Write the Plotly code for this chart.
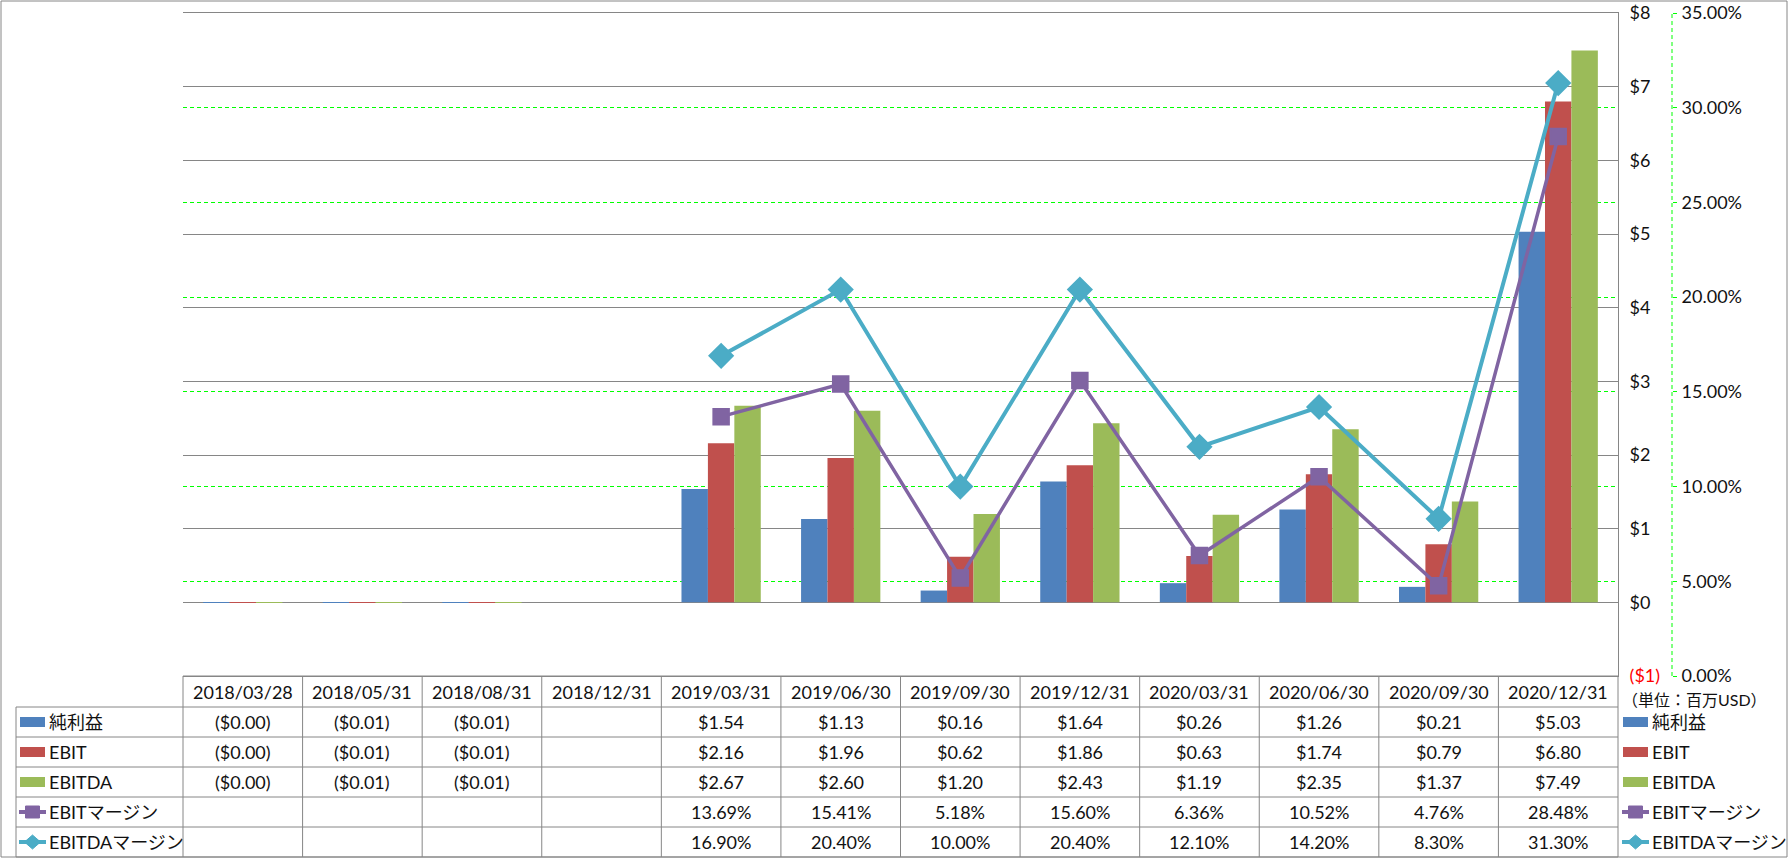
import plotly.graph_objects as go

# ---------------- data ----------------
categories = ["2018/03/28", "2018/05/31", "2018/08/31", "2018/12/31",
              "2019/03/31", "2019/06/30", "2019/09/30", "2019/12/31",
              "2020/03/31", "2020/06/30", "2020/09/30", "2020/12/31"]
net_income = [-0.002, -0.006, -0.006, None, 1.54, 1.13, 0.16, 1.64, 0.26, 1.26, 0.21, 5.03]
ebit = [-0.002, -0.006, -0.006, None, 2.16, 1.96, 0.62, 1.86, 0.63, 1.74, 0.79, 6.80]
ebitda = [-0.002, -0.006, -0.006, None, 2.67, 2.60, 1.20, 2.43, 1.19, 2.35, 1.37, 7.49]
ebit_margin = [None, None, None, None, 13.69, 15.41, 5.18, 15.60, 6.36, 10.52, 4.76, 28.48]
ebitda_margin = [None, None, None, None, 16.90, 20.40, 10.00, 20.40, 12.10, 14.20, 8.30, 31.30]
series_names = ["純利益", "EBIT", "EBITDA", "EBITマージン", "EBITDAマージン"]
usd_ticks = [-1, 0, 1, 2, 3, 4, 5, 6, 7, 8]
pct_ticks = [0, 5, 10, 15, 20, 25, 30, 35]
unit_label = "（単位：百万USD）"

# ---------------- styles ----------------
COLORS = ["#4F81BD", "#C0504D", "#9BBB59", "#8064A2", "#4BACC6"]
GRID = "#868686"
GREEN = "#00FF00"
TXT = "#111111"
FONT = "Lato, 'Noto Sans CJK JP', sans-serif"
FS = 18

W, H = 1789, 858
L, T = 183, 13          # plot left / top (px)
PLOT_R = 1618           # plot right edge (px)
AX2_X = 1672            # secondary axis line (px)
BOT = 676               # plot bottom (px)
PW = AX2_X - L
PH = BOT - T


def fx(px):
    return (px - L) / PW


def fy(py):
    return (BOT - py) / PH


def fmt_usd(v):
    if v is None:
        return ""
    if v < 0:
        return "(${:.2f})".format(abs(v))
    return "${:.2f}".format(v)


def fmt_pct(v):
    return "" if v is None else "{:.2f}%".format(v)


usd_text = ['<span style="color:#FF0000">(${})</span>'.format(abs(v)) if v < 0 else "${}".format(v)
            for v in usd_ticks]
pct_text = ["{:.2f}%".format(v) for v in pct_ticks]

fig = go.Figure()
bar_series = [net_income, ebit, ebitda]
for name, vals, col in zip(series_names[:3], bar_series, COLORS[:3]):
    fig.add_trace(go.Bar(x=categories, y=vals, name=name, marker=dict(color=col, line=dict(width=0)),
                         yaxis="y"))

fig.add_trace(go.Scatter(x=categories, y=ebit_margin, name=series_names[3], yaxis="y2",
                         mode="lines+markers", line=dict(color=COLORS[3], width=3.5),
                         marker=dict(symbol="square", size=15, color=COLORS[3],
                                     line=dict(color=COLORS[3], width=2.5))))
fig.add_trace(go.Scatter(x=categories, y=ebitda_margin, name=series_names[4], yaxis="y2",
                         mode="lines+markers", line=dict(color=COLORS[4], width=4),
                         marker=dict(symbol="diamond", size=18, color=COLORS[4],
                                     line=dict(color=COLORS[4], width=2))))

shapes = []
annotations = []

# outer frame
shapes.append(dict(type="rect", xref="paper", yref="paper", x0=fx(1), x1=fx(W - 2), y0=fy(H - 1), y1=fy(1),
                   line=dict(color=GRID, width=1), layer="below"))

# secondary axis dashed line
shapes.append(dict(type="line", xref="paper", yref="paper", x0=1, x1=1, y0=0, y1=1,
                   line=dict(color=GREEN, width=1, dash="4px,3px")))

# ---------------- data table ----------------
HEAD_H = 31
ROW_H = 30
row_tops = [BOT + HEAD_H + ROW_H * k for k in range(6)]   # boundaries of body rows
TAB_L = 16

shapes.append(dict(type="line", xref="x domain", yref="paper", x0=0, x1=1, y0=fy(BOT), y1=fy(BOT),
                   line=dict(color=GRID, width=1)))
for yb in row_tops:
    shapes.append(dict(type="line", xref="paper", yref="paper", x0=fx(TAB_L), x1=fx(PLOT_R),
                       y0=fy(yb), y1=fy(yb), line=dict(color=GRID, width=1)))
shapes.append(dict(type="line", xref="paper", yref="paper", x0=fx(TAB_L), x1=fx(TAB_L),
                   y0=fy(row_tops[0]), y1=fy(row_tops[-1]), line=dict(color=GRID, width=1)))
for edge in [0, 1]:
    shapes.append(dict(type="line", xref="x domain", yref="paper", x0=edge, x1=edge,
                       y0=fy(BOT), y1=fy(row_tops[-1]), line=dict(color=GRID, width=1)))
for i in range(1, len(categories)):
    shapes.append(dict(type="line", xref="x", yref="paper", x0=i - 0.5, x1=i - 0.5,
                       y0=fy(BOT), y1=fy(row_tops[-1]), line=dict(color=GRID, width=1)))

for c in categories:
    annotations.append(dict(x=c, xref="x", y=fy(BOT + HEAD_H / 2), yref="paper", text=c,
                            showarrow=False, font=dict(size=FS, color=TXT), xanchor="center",
                            yanchor="middle"))

rows = [(net_income, fmt_usd), (ebit, fmt_usd), (ebitda, fmt_usd),
        (ebit_margin, fmt_pct), (ebitda_margin, fmt_pct)]
for r, (vals, f) in enumerate(rows):
    yc = row_tops[r] + ROW_H / 2
    for c, v in zip(categories, vals):
        t = f(v)
        if t:
            annotations.append(dict(x=c, xref="x", y=fy(yc), yref="paper", text=t, showarrow=False,
                                    font=dict(size=FS, color=TXT), xanchor="center", yanchor="middle"))


def legend_key(r, x_left, text_x):
    yc = row_tops[r] + ROW_H / 2
    col = COLORS[r]
    if r < 3:
        shapes.append(dict(type="rect", xref="paper", yref="paper", x0=fx(x_left), x1=fx(x_left + 25),
                           y0=fy(yc + 5), y1=fy(yc - 5), fillcolor=col, line=dict(width=0)))
    else:
        shapes.append(dict(type="line", xref="paper", yref="paper", x0=fx(x_left - 1), x1=fx(x_left + 26),
                           y0=fy(yc), y1=fy(yc), line=dict(color=col, width=4)))
        if r == 3:
            path = "M -7 -6 L 7 -6 L 7 6 L -7 6 Z"
        else:
            path = "M -8 0 L 0 7 L 8 0 L 0 -7 Z"
        shapes.append(dict(type="path", xref="paper", yref="paper", xsizemode="pixel", ysizemode="pixel",
                           xanchor=fx(x_left + 12.5), yanchor=fy(yc), path=path, fillcolor=col,
                           line=dict(color=col, width=1)))
    annotations.append(dict(x=fx(text_x), xref="paper", y=fy(yc), yref="paper", text=series_names[r],
                            showarrow=False, font=dict(size=FS, color=TXT), xanchor="left",
                            yanchor="middle"))


for r in range(5):
    legend_key(r, 20, 47)
    legend_key(r, 1623, 1650)

annotations.append(dict(x=fx(1694), xref="paper", y=fy(699), yref="paper", text=unit_label,
                        showarrow=False, font=dict(size=16, color=TXT), xanchor="center", yanchor="middle"))

fig.update_layout(
    width=W, height=H,
    margin=dict(l=L, r=W - AX2_X, t=T, b=H - BOT, pad=0, autoexpand=False),
    paper_bgcolor="white", plot_bgcolor="white",
    font=dict(family=FONT, size=FS, color=TXT),
    showlegend=False,
    barmode="group", bargap=0.337, bargroupgap=0,
    xaxis=dict(domain=[0, (PLOT_R - L) / PW], type="category", range=[-0.5, len(categories) - 0.5],
               showticklabels=False, showgrid=False, zeroline=False, ticks="", automargin=False,
               showline=True, linecolor=GRID, linewidth=1, mirror=True),
    yaxis=dict(range=[usd_ticks[0], usd_ticks[-1]], tickmode="array", tickvals=usd_ticks, ticktext=usd_text,
               side="right", showline=True, linecolor=GRID, linewidth=1, showgrid=True, gridcolor=GRID,
               gridwidth=1, zeroline=False, ticks="", ticklabelstandoff=7, automargin=False,
               tickfont=dict(size=FS, color=TXT)),
    yaxis2=dict(range=[pct_ticks[0], pct_ticks[-1]], tickmode="array", tickvals=pct_ticks, ticktext=pct_text,
                overlaying="y", side="right", anchor="free", position=1, showline=False,
                showgrid=True, gridcolor=GREEN, gridwidth=1, griddash="4px,3px", zeroline=False,
                ticks="outside", ticklen=4, tickcolor=GREEN, tickwidth=1, ticklabelstandoff=1,
                automargin=False, tickfont=dict(size=FS, color=TXT)),
    shapes=shapes,
    annotations=annotations,
)

fig.write_html("out.html", config={"displayModeBar": False},
               post_script="document.body.style.margin='0';document.body.style.padding='0';"
                           "document.documentElement.style.overflow='hidden';")
